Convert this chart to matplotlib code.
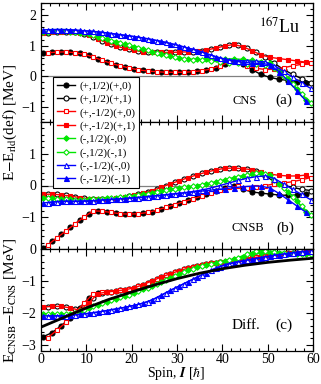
import numpy as np
import matplotlib
matplotlib.use('Agg')
import matplotlib.pyplot as plt
from matplotlib.ticker import MultipleLocator
from matplotlib.lines import Line2D

plt.rcParams['font.family'] = ['Liberation Serif', 'DejaVu Serif']
plt.rcParams['mathtext.fontset'] = 'stix'

# spin grids for the two signatures
spin_p = [0.5, 2.5, 4.5, 6.5, 8.5, 10.5, 12.5, 14.5, 16.5, 18.5, 20.5, 22.5, 24.5, 26.5, 28.5,
          30.5, 32.5, 34.5, 36.5, 38.5, 40.5, 42.5, 44.5, 46.5, 48.5, 50.5, 52.5, 54.5, 56.5, 58.5]
spin_m = [1.5, 3.5, 5.5, 7.5, 9.5, 11.5, 13.5, 15.5, 17.5, 19.5, 21.5, 23.5, 25.5, 27.5, 29.5,
          31.5, 33.5, 35.5, 37.5, 39.5, 41.5, 43.5, 45.5, 47.5, 49.5, 51.5, 53.5, 55.5, 57.5, 59.5]

labels = ['(+,1/2)(+,0)', '(+,1/2)(+,1)', '(+,-1/2)(+,0)', '(+,-1/2)(+,1)',
          '(-,1/2)(-,0)', '(-,1/2)(-,1)', '(-,-1/2)(-,0)', '(-,-1/2)(-,1)']

# panel (a): CNS
cns_bk_f = [0.75, 0.78, 0.80, 0.79, 0.75, 0.68, 0.58, 0.47, 0.38, 0.30, 0.24, 0.19, 0.16, 0.14, 0.13,
            0.13, 0.14, 0.16, 0.20, 0.28, 0.40, 0.50, 0.40, 0.22, 0.06, -0.04, -0.10, -0.14, -0.18, -0.22]
cns_bk_o = [1.43, 1.45, 1.46, 1.44, 1.40, 1.30, 1.17, 1.05, 0.95, 0.88, 0.82, 0.79, 0.78, 0.78, 0.78,
            0.79, 0.81, 0.84, 0.88, 0.95, 1.02, 1.03, 0.92, 0.78, 0.62, 0.42, 0.22, 0.06, -0.08, -0.22]
cns_rd_o = [0.77, 0.79, 0.80, 0.77, 0.72, 0.63, 0.52, 0.42, 0.34, 0.27, 0.21, 0.17, 0.15, 0.13, 0.13,
            0.13, 0.15, 0.18, 0.24, 0.34, 0.46, 0.47, 0.34, 0.26, 0.22, 0.23, 0.28, 0.34, 0.39, 0.42]
cns_rd_f = [1.42, 1.45, 1.46, 1.45, 1.42, 1.35, 1.23, 1.10, 0.99, 0.91, 0.85, 0.80, 0.78, 0.78, 0.78,
            0.79, 0.80, 0.82, 0.86, 0.92, 0.99, 1.04, 0.97, 0.84, 0.70, 0.62, 0.58, 0.54, 0.50, 0.46]
cns_gr_f = [1.45, 1.47, 1.47, 1.46, 1.43, 1.38, 1.30, 1.22, 1.13, 1.05, 0.97, 0.89, 0.81, 0.73, 0.66,
            0.60, 0.56, 0.55, 0.55, 0.56, 0.57, 0.57, 0.55, 0.52, 0.48, 0.42, 0.18, -0.10, -0.42, -0.78]
cns_gr_o = [1.46, 1.47, 1.47, 1.45, 1.41, 1.34, 1.26, 1.17, 1.09, 1.01, 0.93, 0.85, 0.77, 0.69, 0.62,
            0.57, 0.54, 0.52, 0.50, 0.47, 0.44, 0.42, 0.40, 0.39, 0.38, 0.28, 0.02, -0.26, -0.58, -0.88]
cns_bl_o = [1.52, 1.53, 1.53, 1.51, 1.49, 1.47, 1.44, 1.40, 1.36, 1.32, 1.28, 1.23, 1.17, 1.11, 1.04,
            0.96, 0.88, 0.79, 0.69, 0.60, 0.54, 0.51, 0.50, 0.49, 0.47, 0.35, 0.16, -0.03, -0.22, -0.40]
cns_bl_f = [1.52, 1.53, 1.53, 1.52, 1.50, 1.48, 1.45, 1.42, 1.38, 1.34, 1.30, 1.25, 1.20, 1.14, 1.07,
            1.00, 0.92, 0.84, 0.74, 0.64, 0.56, 0.50, 0.46, 0.43, 0.42, 0.38, 0.15, -0.15, -0.48, -0.82]

# panel (b): CNSB
cnsb_bk_f = [-1.98, -1.76, -1.54, -1.32, -1.10, -0.89, -0.80, -0.83, -0.87, -0.90, -0.90, -0.88, -0.82, -0.73, -0.64,
             -0.55, -0.46, -0.37, -0.28, -0.18, -0.08, 0.00, -0.12, -0.20, -0.24, -0.27, -0.30, -0.31, -0.30, -0.27]
cnsb_bk_o = [-0.27, -0.28, -0.31, -0.35, -0.40, -0.43, -0.44, -0.42, -0.39, -0.34, -0.28, -0.21, -0.12, -0.01, 0.10,
             0.20, 0.30, 0.38, 0.46, 0.52, 0.55, 0.55, 0.52, 0.47, 0.30, 0.12, 0.01, -0.06, -0.12, -0.16]
cnsb_rd_o = [-1.87, -1.65, -1.43, -1.21, -0.99, -0.80, -0.81, -0.85, -0.89, -0.90, -0.89, -0.85, -0.78, -0.69, -0.60,
             -0.51, -0.42, -0.33, -0.23, -0.13, -0.04, -0.03, -0.08, -0.05, 0.00, 0.05, 0.08, 0.12, 0.18, 0.25]
cnsb_rd_f = [-0.28, -0.27, -0.30, -0.33, -0.38, -0.42, -0.44, -0.43, -0.40, -0.36, -0.30, -0.24, -0.16, -0.06, 0.05,
             0.15, 0.25, 0.34, 0.42, 0.49, 0.54, 0.55, 0.53, 0.50, 0.42, 0.36, 0.32, 0.30, 0.30, 0.33]
cnsb_gr_f = [-0.40, -0.40, -0.42, -0.44, -0.45, -0.44, -0.42, -0.40, -0.38, -0.35, -0.32, -0.28, -0.23, -0.17, -0.12,
             -0.08, -0.04, 0.00, 0.05, 0.11, 0.17, 0.24, 0.30, 0.35, 0.38, 0.32, 0.05, -0.20, -0.50, -0.85]
cnsb_gr_o = [-0.40, -0.41, -0.43, -0.45, -0.45, -0.43, -0.41, -0.39, -0.37, -0.34, -0.30, -0.26, -0.20, -0.15, -0.10,
             -0.06, -0.02, 0.03, 0.08, 0.14, 0.21, 0.28, 0.34, 0.38, 0.36, 0.18, -0.08, -0.36, -0.66, -0.92]
cnsb_bl_o = [-0.54, -0.51, -0.50, -0.50, -0.49, -0.48, -0.46, -0.44, -0.42, -0.40, -0.38, -0.35, -0.32, -0.29, -0.26,
             -0.23, -0.19, -0.14, -0.08, 0.00, 0.08, 0.16, 0.23, 0.28, 0.30, 0.22, 0.05, -0.12, -0.28, -0.45]
cnsb_bl_f = [-0.55, -0.52, -0.50, -0.50, -0.50, -0.49, -0.47, -0.45, -0.43, -0.41, -0.39, -0.37, -0.34, -0.31, -0.28,
             -0.25, -0.22, -0.19, -0.16, -0.13, -0.10, -0.07, -0.04, -0.02, -0.02, -0.08, -0.25, -0.45, -0.65, -0.85]

# panel (c): CNSB - CNS
diff_bk_f = [-2.75, -2.62, -2.40, -2.15, -1.85, -1.55, -1.38, -1.35, -1.32, -1.28, -1.22, -1.12, -1.00, -0.88, -0.78,
             -0.68, -0.60, -0.53, -0.48, -0.43, -0.40, -0.36, -0.32, -0.28, -0.24, -0.20, -0.17, -0.14, -0.12, -0.10]
diff_bk_o = [-1.83, -1.80, -1.82, -1.88, -1.80, -1.55, -1.38, -1.34, -1.30, -1.25, -1.17, -1.06, -0.94, -0.83, -0.73,
             -0.64, -0.56, -0.50, -0.45, -0.41, -0.38, -0.34, -0.30, -0.26, -0.22, -0.18, -0.15, -0.13, -0.11, -0.09]
diff_rd_o = [-2.78, -2.55, -2.30, -2.00, -1.70, -1.40, -1.36, -1.34, -1.30, -1.25, -1.17, -1.06, -0.94, -0.83, -0.73,
             -0.64, -0.56, -0.50, -0.45, -0.41, -0.38, -0.34, -0.30, -0.26, -0.22, -0.18, -0.15, -0.13, -0.11, -0.09]
diff_rd_f = [-1.82, -1.80, -1.80, -1.85, -1.92, -1.70, -1.40, -1.35, -1.32, -1.28, -1.22, -1.12, -1.00, -0.88, -0.78,
             -0.68, -0.60, -0.53, -0.48, -0.43, -0.40, -0.36, -0.32, -0.28, -0.24, -0.20, -0.17, -0.14, -0.12, -0.10]
diff_gr_f = [-2.05, -2.05, -2.05, -2.03, -1.96, -1.86, -1.75, -1.65, -1.56, -1.47, -1.38, -1.27, -1.15, -1.03, -0.90,
             -0.78, -0.67, -0.58, -0.50, -0.44, -0.38, -0.32, -0.25, -0.17, -0.12, -0.12, -0.14, -0.15, -0.16, -0.17]
diff_gr_o = [-2.05, -2.05, -2.04, -2.00, -1.91, -1.80, -1.70, -1.60, -1.52, -1.43, -1.33, -1.21, -1.09, -0.96, -0.84,
             -0.72, -0.62, -0.54, -0.47, -0.41, -0.35, -0.27, -0.15, -0.06, -0.05, -0.08, -0.11, -0.13, -0.15, -0.16]
diff_bl_o = [-2.10, -2.10, -2.09, -2.07, -2.04, -2.00, -1.96, -1.91, -1.86, -1.80, -1.74, -1.65, -1.53, -1.38, -1.23,
             -1.09, -0.95, -0.81, -0.67, -0.55, -0.46, -0.40, -0.35, -0.30, -0.25, -0.20, -0.16, -0.12, -0.09, -0.06]
diff_bl_f = [-2.10, -2.10, -2.10, -2.08, -2.05, -2.02, -1.98, -1.93, -1.88, -1.83, -1.77, -1.70, -1.60, -1.45, -1.30,
             -1.16, -1.02, -0.88, -0.74, -0.60, -0.50, -0.43, -0.38, -0.32, -0.27, -0.22, -0.18, -0.14, -0.10, -0.07]

# smooth average curve in panel (c)
fit_spin = [0, 5, 10, 15, 20, 25, 30, 35, 40, 45, 50, 55, 60]
fit_diff = [-2.45, -2.15, -1.85, -1.58, -1.35, -1.13, -0.93, -0.76, -0.62, -0.51, -0.42, -0.35, -0.29]

GREEN = '#00e600'
# colour, marker, filled, spin grid
styles = [
    ('black', 'o', True, spin_p),
    ('black', 'o', False, spin_m),
    ('red', 's', False, spin_m),
    ('red', 's', True, spin_p),
    (GREEN, 'D', True, spin_p),
    (GREEN, 'D', False, spin_m),
    ('blue', '^', False, spin_m),
    ('blue', '^', True, spin_p),
]
msizes = {'o': 3.6, 's': 3.4, 'D': 2.8, '^': 3.6}


def draw_series(ax, series):
    for (col, mk, filled, sp), vals in zip(styles, series):
        ax.plot(sp, vals, color=col, lw=1.0, marker=mk, ms=msizes[mk], mew=0.8,
                mfc=col if filled else 'white', mec=col)


def style_axis(ax, ylim, yticks):
    ax.set_xlim(0, 60)
    ax.set_ylim(*ylim)
    ax.set_yticks(yticks)
    ax.xaxis.set_major_locator(MultipleLocator(10))
    ax.xaxis.set_minor_locator(MultipleLocator(2))
    ax.yaxis.set_minor_locator(MultipleLocator(0.2))
    ax.tick_params(which='both', direction='in', top=True, right=True, labelsize=10, width=0.8)
    ax.tick_params(which='major', length=5)
    ax.tick_params(which='minor', length=2.5)
    ax.tick_params(axis='x', pad=1.5)
    for sp in ax.spines.values():
        sp.set_linewidth(0.9)


fig = plt.figure(figsize=(3.21, 3.84), dpi=100)
L, W = 41 / 321, 272 / 321
ax_a = fig.add_axes([L, 1 - 122 / 384, W, 119 / 384])
ax_b = fig.add_axes([L, 1 - 249 / 384, W, 127 / 384])
ax_c = fig.add_axes([L, 1 - 351 / 384, W, 102 / 384])

ax_a.axhline(0, color='gray', lw=0.9, zorder=0)
draw_series(ax_a, [cns_bk_f, cns_bk_o, cns_rd_o, cns_rd_f, cns_gr_f, cns_gr_o, cns_bl_o, cns_bl_f])
style_axis(ax_a, (-1.5, 2.4), [-1, 0, 1, 2])
ax_a.tick_params(labelbottom=False)

ax_b.axhline(0, color='gray', lw=0.9, zorder=0)
draw_series(ax_b, [cnsb_bk_f, cnsb_bk_o, cnsb_rd_o, cnsb_rd_f, cnsb_gr_f, cnsb_gr_o, cnsb_bl_o, cnsb_bl_f])
style_axis(ax_b, (-2, 2), [-1, 0, 1])
ax_b.tick_params(labelbottom=False)

draw_series(ax_c, [diff_bk_f, diff_bk_o, diff_rd_o, diff_rd_f, diff_gr_f, diff_gr_o, diff_bl_o, diff_bl_f])
ax_c.plot(fit_spin, fit_diff, color='black', lw=2.0, zorder=5)
style_axis(ax_c, (-3.2, 0), [-3, -2, -1, 0])
ax_c.set_xticks([0, 10, 20, 30, 40, 50, 60])

# panel annotations
ax_a.text(0.955, 0.79, r'$^{167}$Lu', transform=ax_a.transAxes, ha='right', va='center', fontsize=13)
ax_a.text(0.705, 0.18, 'CNS', transform=ax_a.transAxes, ha='left', va='center', fontsize=9)
ax_a.text(0.86, 0.18, '(a)', transform=ax_a.transAxes, ha='left', va='center', fontsize=11)
ax_b.text(0.70, 0.165, 'CNSB', transform=ax_b.transAxes, ha='left', va='center', fontsize=9)
ax_b.text(0.865, 0.165, '(b)', transform=ax_b.transAxes, ha='left', va='center', fontsize=11)
ax_c.text(0.70, 0.25, 'Diff.', transform=ax_c.transAxes, ha='left', va='center', fontsize=11)
ax_c.text(0.86, 0.25, '(c)', transform=ax_c.transAxes, ha='left', va='center', fontsize=11)

# axis titles
fig.text(0.031, 1 - 122 / 384, r'E$-$E$_{\rm rld}$(def) [MeV]', rotation=90,
         ha='center', va='center', fontsize=11)
fig.text(0.031, 1 - 300 / 384, r'E$_{\rm CNSB}$$-$E$_{\rm CNS}$ [MeV]', rotation=90,
         ha='center', va='center', fontsize=11)
fig.text(0.55, 0.004, r'Spin, $\mathbfit{I}$ [$\hbar$]', ha='center', va='bottom', fontsize=10)

# legend sits across panels (a) and (b)
handles = []
for col, mk, filled, sp in styles:
    handles.append(Line2D([], [], color=col, lw=1.0, marker=mk, ms=msizes[mk], mew=0.8,
                          mfc=col if filled else 'white', mec=col))
leg = fig.legend(handles, labels, loc='upper left', bbox_to_anchor=(53 / 321, 1 - 77 / 384),
                 fontsize=8, frameon=True, fancybox=False, framealpha=1, edgecolor='black',
                 handlelength=1.6, handletextpad=0.4, labelspacing=0.3, borderpad=0.35,
                 borderaxespad=0)
leg.get_frame().set_linewidth(0.8)

fig.savefig('out.png', dpi=100)
